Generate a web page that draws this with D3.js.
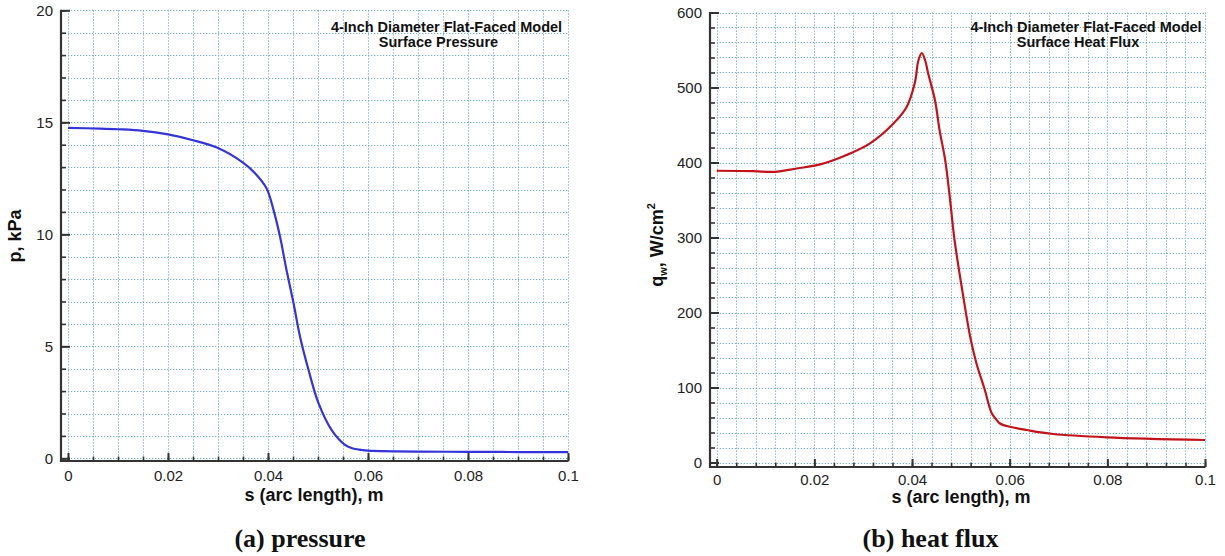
<!DOCTYPE html>
<html>
<head>
<meta charset="utf-8">
<script src="https://cdn.jsdelivr.net/npm/d3@7"></script>
<style>
  html, body { margin: 0; padding: 0; background: #fff; }
  svg { display: block; }
</style>
</head>
<body>
<svg id="chart" width="1225" height="556"></svg>
<script>
// ---------- data ----------
const pressureS = [0, 0.0064, 0.010, 0.015, 0.020, 0.025, 0.030, 0.035, 0.0374, 0.0397, 0.0411, 0.0424, 0.0437, 0.0451, 0.0464, 0.0481, 0.0501, 0.0527, 0.0554, 0.0567, 0.0594, 0.0611, 0.0697, 0.080, 0.090, 0.100];
const pressureP = [14.75, 14.72, 14.69, 14.62, 14.46, 14.2, 13.85, 13.2, 12.73, 12.06, 11.09, 9.9, 8.41, 6.93, 5.44, 3.95, 2.46, 1.27, 0.6, 0.46, 0.35, 0.33, 0.30, 0.29, 0.28, 0.28];

const heatS = [0, 0.0075, 0.0119, 0.0164, 0.0212, 0.0266, 0.0314, 0.0362, 0.0389, 0.0406, 0.0413, 0.0420, 0.0427, 0.0433, 0.0447, 0.0457, 0.0468, 0.0478, 0.0487, 0.0505, 0.0519, 0.0532, 0.0549, 0.0563, 0.0573, 0.0580, 0.0600, 0.0635, 0.0689, 0.0799, 0.100];
const heatQ = [389, 388.5, 387.5, 392, 397.5, 410, 425.5, 452, 474, 507, 536, 546, 536, 519, 483, 441, 403, 350, 297, 221, 168, 132, 97, 66, 57, 52, 47.7, 43.3, 38, 33.6, 30];

// ---------- tick labels ----------
const xTicks = [0, 0.02, 0.04, 0.06, 0.08, 0.1];
const pressureYTicks = [0, 5, 10, 15, 20];
const heatYTicks = [0, 100, 200, 300, 400, 500, 600];

const leftTitle = ["4-Inch Diameter Flat-Faced Model", "Surface Pressure"];
const rightTitle = ["4-Inch Diameter Flat-Faced Model", "Surface Heat Flux"];
const xTitle = "s (arc length), m";
const leftCaption = "(a) pressure";
const rightCaption = "(b) heat flux";

// ---------- drawing ----------
const svg = d3.select("#chart");
svg.append("rect").attr("width", 1225).attr("height", 556).attr("fill", "#fff");

const SANS = "'Liberation Sans', Arial, Helvetica, sans-serif";
const SERIF = "'Liberation Serif', 'Times New Roman', Times, serif";
const fmtX = d => d === 0 ? "0" : String(+d.toFixed(3));

function panel(cfg) {
  const g = svg.append("g");
  const x = d3.scaleLinear().domain([0, 0.1]).range([cfg.x0, cfg.x1]);
  const y = d3.scaleLinear().domain(cfg.yDomain).range([cfg.y0, cfg.y1]);

  const xMinor = d3.range(0, 0.1 + 1e-9, cfg.xMinorStep);
  const yMinor = d3.range(cfg.yDomain[0], cfg.yDomain[1] + 1e-9, cfg.yMinorStep);

  // grid
  const grid = g.append("g").attr("stroke", "#78aec6").attr("stroke-width", 1)
    .attr("stroke-dasharray", "1.3,1.7").attr("fill", "none");
  grid.selectAll("line.v").data(xMinor).join("line").attr("class", "v")
    .attr("x1", d => Math.round(x(d)) + 0.5).attr("x2", d => Math.round(x(d)) + 0.5)
    .attr("y1", y(cfg.yDomain[1])).attr("y2", y(cfg.yDomain[0]));
  grid.selectAll("line.h").data(yMinor).join("line").attr("class", "h")
    .attr("y1", d => Math.round(y(d)) + 0.5).attr("y2", d => Math.round(y(d)) + 0.5)
    .attr("x1", x(0)).attr("x2", x(0.1));

  // data line
  const line = d3.line().x(d => x(d[0])).y(d => y(d[1])).curve(d3.curveCatmullRom.alpha(0.5));
  g.append("path").datum(cfg.sx.map((s, i) => [s, cfg.vy[i]]))
    .attr("d", line).attr("fill", "none")
    .attr("stroke", cfg.color).attr("stroke-width", 2.2).attr("stroke-linejoin", "round");

  // axes - minor ticks
  g.append("g").attr("transform", `translate(${cfg.axisX},0)`)
    .call(d3.axisLeft(y).tickValues(yMinor).tickSize(-5).tickFormat(""))
    .call(a => a.select(".domain").remove())
    .call(a => a.selectAll("line").attr("stroke", "#333").attr("stroke-width", 1.6));
  g.append("g").attr("transform", `translate(0,${cfg.axisY})`)
    .call(d3.axisBottom(x).tickValues(xMinor).tickSize(-4.5).tickFormat(""))
    .call(a => a.select(".domain").remove())
    .call(a => a.selectAll("line").attr("stroke", "#333").attr("stroke-width", 1.6));

  // axes - major ticks & labels
  g.append("g").attr("transform", `translate(${cfg.axisX},0)`)
    .call(d3.axisLeft(y).tickValues(cfg.yTicks).tickSize(-9).tickPadding(8).tickFormat(d => String(d)))
    .call(a => a.select(".domain").remove())
    .call(a => a.selectAll("line").attr("stroke", "#333").attr("stroke-width", 2))
    .call(a => a.selectAll("text").attr("font-family", SANS).attr("font-size", 15).attr("fill", "#222"));
  g.append("g").attr("transform", `translate(0,${cfg.axisY})`)
    .call(d3.axisBottom(x).tickValues(xTicks).tickSize(-8).tickPadding(cfg.xPad).tickFormat(fmtX))
    .call(a => a.select(".domain").remove())
    .call(a => a.selectAll("line").attr("stroke", "#333").attr("stroke-width", 2))
    .call(a => a.selectAll("text").attr("font-family", SANS).attr("font-size", 15).attr("fill", "#222"));

  // axis lines
  g.append("line").attr("x1", cfg.axisX).attr("x2", cfg.axisX)
    .attr("y1", y(cfg.yDomain[1]) - 0.5).attr("y2", cfg.axisY + 1)
    .attr("stroke", "#333").attr("stroke-width", 2.2);
  g.append("line").attr("x1", cfg.axisX - 1).attr("x2", x(0.1) + 0.5)
    .attr("y1", cfg.axisY).attr("y2", cfg.axisY)
    .attr("stroke", "#333").attr("stroke-width", 2.2);

  // plot titles
  cfg.title.forEach((t, i) => {
    g.append("text").attr("x", cfg.titleX[i]).attr("y", cfg.titleY[i])
      .attr("text-anchor", "middle").attr("font-family", SANS)
      .attr("font-weight", "bold").attr("font-size", 14.5).attr("fill", "#111")
      .text(t);
  });

  // x axis title
  g.append("text").attr("x", cfg.xTitleX).attr("y", cfg.xTitleY)
    .attr("text-anchor", "middle").attr("font-family", SANS)
    .attr("font-weight", "bold").attr("font-size", 18).attr("fill", "#111").text(xTitle);

  // caption
  g.append("text").attr("x", cfg.capX).attr("y", 547)
    .attr("text-anchor", "middle").attr("font-family", SERIF)
    .attr("font-weight", "bold").attr("font-size", 26).attr("fill", "#111").text(cfg.caption);

  return { g, x, y };
}

panel({
  x0: 68, x1: 568, y0: 458.3, y1: 10.3, yDomain: [0, 20],
  axisX: 61, axisY: 461, xPad: 9,
  xMinorStep: 0.005, yMinorStep: 1,
  yTicks: pressureYTicks, sx: pressureS, vy: pressureP, color: "#3434d8",
  title: leftTitle, titleX: [446.5, 438.5], titleY: [32, 46.5],
  xTitleX: 314, xTitleY: 501, capX: 300, caption: leftCaption
});

panel({
  x0: 716.7, x1: 1205, y0: 462.5, y1: 12.5, yDomain: [0, 600],
  axisX: 710, axisY: 467, xPad: 7.5,
  xMinorStep: 0.004, yMinorStep: 20,
  yTicks: heatYTicks, sx: heatS, vy: heatQ, color: "#c0141a",
  title: rightTitle, titleX: [1086, 1078], titleY: [32, 46.5],
  xTitleX: 961, xTitleY: 503, capX: 930.5, caption: rightCaption
});

// y axis titles
svg.append("text").attr("transform", "translate(21,236) rotate(-90)")
  .attr("text-anchor", "middle").attr("font-family", SANS).attr("font-weight", "bold")
  .attr("font-size", 18).attr("fill", "#111").text("p, kPa");

const qt = svg.append("text").attr("transform", "translate(663,245) rotate(-90)")
  .attr("text-anchor", "middle").attr("font-family", SANS).attr("font-weight", "bold")
  .attr("font-size", 18).attr("fill", "#111");
qt.append("tspan").text("q");
qt.append("tspan").attr("font-size", 11).attr("dy", 4).text("w");
qt.append("tspan").attr("dy", -4).text(", W/cm");
qt.append("tspan").attr("font-size", 11).attr("dy", -8).text("2");
</script>
</body>
</html>
